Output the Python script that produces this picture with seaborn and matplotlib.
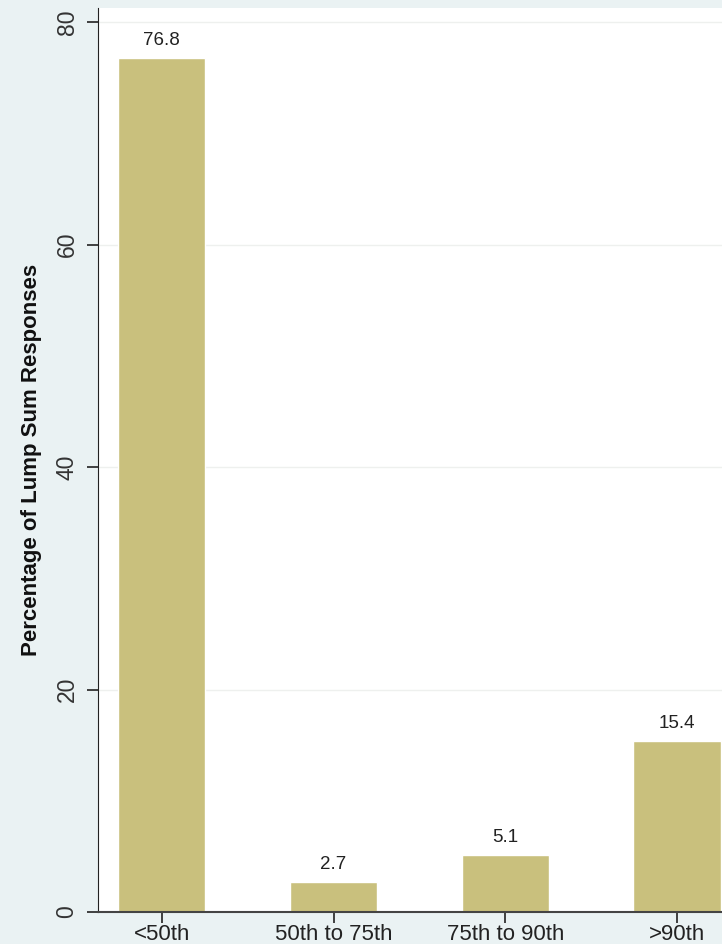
import pandas as pd
import seaborn as sns
import matplotlib.pyplot as plt

# data
categories = ['<50th', '50th to 75th', '75th to 90th', '>90th']
percentages = [76.8, 2.7, 5.1, 15.4]

df = pd.DataFrame({'group': categories, 'pct': percentages})

sns.set_style('white')
plt.rcParams['font.family'] = ['Liberation Sans', 'DejaVu Sans']

bg = '#eaf2f3'
bar_color = '#c9c07d'

fig = plt.figure(figsize=(7.22, 9.44), dpi=100, facecolor=bg)
ax = fig.add_axes([98 / 722, 32 / 944, 1 - 98 / 722, (912 - 8) / 944])
ax.set_facecolor('white')

sns.barplot(data=df, x='group', y='pct', color=bar_color, width=0.51,
            saturation=1, ax=ax)

# value labels above the bars
for i, v in enumerate(percentages):
    ax.text(i, v + 0.8, f'{v:.1f}', ha='center', va='bottom',
            fontsize=13.5, color='#222222')

ax.set_xlim(-0.37, 3.26)
ax.set_ylim(0, 81.26)
ax.set_yticks([0, 20, 40, 60, 80])
ax.set_yticklabels(['0', '20', '40', '60', '80'], rotation=90, va='center')
ax.yaxis.grid(True, color='#eef0ee', linewidth=1)
ax.set_axisbelow(True)

ax.tick_params(axis='y', direction='out', length=8, width=1.2, color='#222222',
               labelsize=16.5, pad=6, left=True, labelcolor='#333333')
ax.tick_params(axis='x', direction='out', length=8, width=1.2, color='#222222',
               labelsize=16, pad=1, bottom=True, labelcolor='#222222')

ax.set_xlabel('')
ax.set_ylabel('Percentage of Lump Sum Responses', fontsize=16,
              fontweight='bold', labelpad=10, color='#111111')

for side in ['top', 'right']:
    ax.spines[side].set_visible(False)
ax.spines['left'].set_color('#222222')
ax.spines['bottom'].set_color('#444444')
ax.spines['bottom'].set_linewidth(1.5)

fig.savefig('out.png', dpi=100, facecolor=bg)
